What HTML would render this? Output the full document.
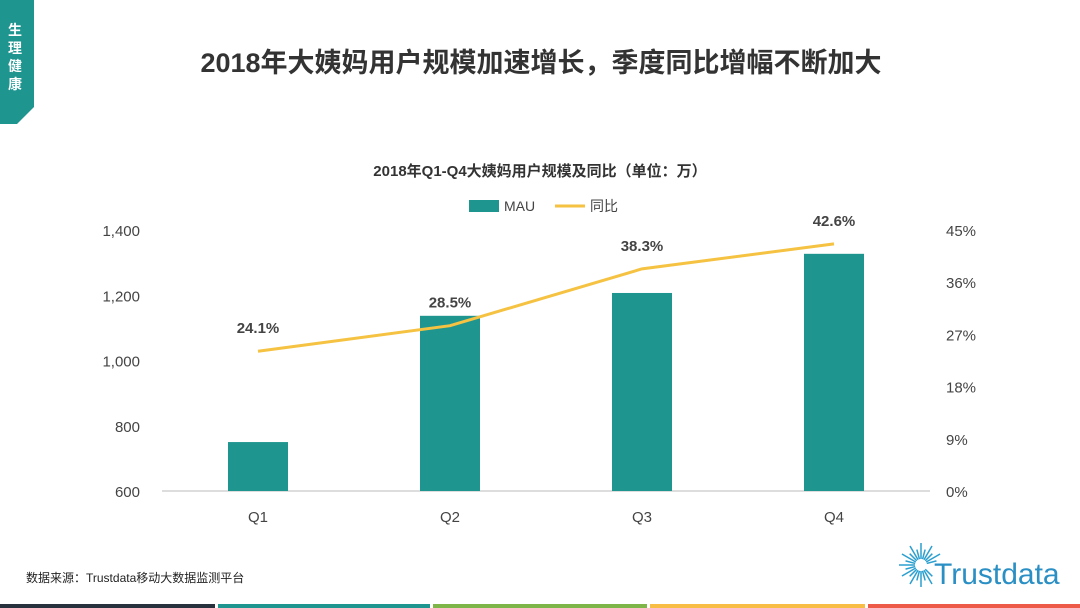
<!DOCTYPE html>
<html><head><meta charset="utf-8"><style>
body{margin:0;width:1080px;height:608px;background:#fff;overflow:hidden;position:relative;font-family:"Liberation Sans","Noto Sans CJK SC",sans-serif}
</style></head><body>
<svg width="1080" height="608" style="position:absolute;left:0;top:0">
<polygon points="0,0 34,0 34,107 17,124 0,124" fill="#1f9590"/>
<g font-size="14" font-weight="bold" fill="#fff" text-anchor="middle">
<text x="15" y="35">生</text><text x="15" y="53">理</text><text x="15" y="71">健</text><text x="15" y="89">康</text></g>
<text x="541" y="72" text-anchor="middle" font-size="27" font-weight="bold" fill="#333">2018年大姨妈用户规模加速增长，季度同比增幅不断加大</text>
<text x="540" y="176" text-anchor="middle" font-size="15" font-weight="bold" fill="#333">2018年Q1-Q4大姨妈用户规模及同比（单位：万）</text>
<rect x="469" y="200" width="30" height="12" fill="#1f9590"/>
<text x="504" y="211" font-size="14" fill="#444">MAU</text>
<line x1="555" y1="206" x2="585" y2="206" stroke="#f5c242" stroke-width="3"/>
<text x="590" y="211" font-size="14" fill="#444">同比</text>
<g id="chart"></g>
<text x="26" y="582" font-size="12" fill="#222">数据来源：Trustdata移动大数据监测平台</text>
<g stroke="#2a9fd0" stroke-width="1.5">
<g id="rays"></g></g>
<text x="934" y="584" font-size="30" fill="#2a8fc4">Trustdata</text>
<rect x="0" y="604" width="215" height="4" fill="#27313e"/>
<rect x="218" y="604" width="212" height="4" fill="#1f9590"/>
<rect x="433" y="604" width="214" height="4" fill="#7db548"/>
<rect x="650" y="604" width="215" height="4" fill="#f7bd45"/>
<rect x="868" y="604" width="212" height="4" fill="#ee5a48"/>
</svg>
<script>
const categories=["Q1","Q2","Q3","Q4"];
const mauValues=[750,1137,1207,1327];
const yoyValues=[24.1,28.5,38.3,42.6];
const yoyLabels=["24.1%","28.5%","38.3%","42.6%"];
const leftTicks=[600,800,1000,1200,1400];
const leftTickLabels=["600","800","1,000","1,200","1,400"];
const rightTicks=[0,9,18,27,36,45];
const rightTickLabels=["0%","9%","18%","27%","36%","45%"];
const NS="http://www.w3.org/2000/svg";
const g=document.getElementById('chart');
const x0=162,x1=930,yTop=230,yBot=491;
const yL=v=>yBot-(v-600)/800*(yBot-yTop);
const yR=v=>yBot-v/45*(yBot-yTop);
const cw=(x1-x0)/categories.length;
const xC=i=>x0+cw*(i+0.5);
function el(t,a,txt){const e=document.createElementNS(NS,t);for(const k in a)e.setAttribute(k,a[k]);if(txt!=null)e.textContent=txt;g.appendChild(e);return e;}
let ax=el('line',{x1:x0,y1:yBot,x2:x1,y2:yBot,stroke:'#bbb'});

leftTicks.forEach((v,i)=>{const t=el('text',{x:140,y:yL(v)+6,'text-anchor':'end','font-size':15,fill:'#444'},leftTickLabels[i]);
});
rightTicks.forEach((v,i)=>{const t=el('text',{x:946,y:yR(v)+6,'font-size':15,fill:'#444'},rightTickLabels[i]);
});
categories.forEach((c,i)=>{
const b=el('rect',{x:xC(i)-30,y:yL(mauValues[i]),width:60,height:yBot-yL(mauValues[i]),fill:'#1f9590'});

const t=el('text',{x:xC(i),y:522,'text-anchor':'middle','font-size':15,fill:'#444'},c);
});
const pl=el('polyline',{points:yoyValues.map((v,i)=>xC(i)+','+yR(v)).join(' '),fill:'none',stroke:'#f5c242','stroke-width':3});

yoyValues.forEach((v,i)=>{const t=el('text',{x:xC(i),y:yR(v)-18,'text-anchor':'middle','font-size':15,'font-weight':'bold',fill:'#444'},yoyLabels[i]);
});
const r=document.getElementById('rays');
for(let k=0;k<24;k++){const a=k/24*2*Math.PI;if(a>-0.2&&a<0.6)continue;const l=document.createElementNS(NS,'line');
const r1=6,r2=k%2?16:22;l.setAttribute('x1',921+r1*Math.cos(a));l.setAttribute('y1',565+r1*Math.sin(a));
l.setAttribute('x2',921+r2*Math.cos(a));l.setAttribute('y2',565+r2*Math.sin(a));r.appendChild(l);}
</script>
</body></html>
